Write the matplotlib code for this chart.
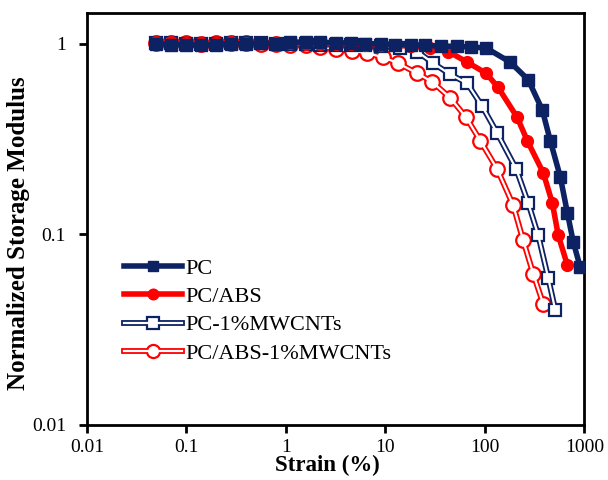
import numpy as np
import matplotlib
matplotlib.use("Agg")
import matplotlib.pyplot as plt
from matplotlib.ticker import FixedLocator, FixedFormatter, NullLocator
from matplotlib.legend_handler import HandlerTuple

# data (strain in %, normalized storage modulus)
pc_strain = [0.05, 0.07, 0.1, 0.14, 0.2, 0.28, 0.4, 0.56, 0.8, 1.1, 1.6, 2.2, 3.2, 4.5,
             6.3, 9, 12.6, 18, 25, 36, 52, 72, 103, 180, 273, 378, 455, 574, 675, 775, 912]
pc_mod = [1.0, 0.99, 0.99, 0.98, 0.99, 1.0, 1.0, 1.01, 1.0, 1.02, 1.02, 1.02, 1.01, 1.01,
          1.0, 1.0, 0.99, 0.99, 0.98, 0.97, 0.97, 0.96, 0.95, 0.80, 0.647, 0.45, 0.31, 0.20,
          0.13, 0.091, 0.067]

pcabs_strain = [0.05, 0.07, 0.1, 0.14, 0.2, 0.28, 0.4, 0.56, 0.8, 1.1, 1.6, 2.2, 3.2, 4.5,
                6.3, 9, 12.6, 18, 28, 43, 66.5, 103, 136, 212, 267, 387, 477, 547, 675]
pcabs_mod = [1.02, 1.02, 1.01, 1.01, 1.01, 1.02, 1.01, 1.01, 1.01, 1.01, 1.0, 1.0, 1.0, 1.0,
             0.99, 0.99, 0.98, 0.97, 0.95, 0.91, 0.80, 0.70, 0.59, 0.41, 0.31, 0.21, 0.146,
             0.099, 0.069]

pccnt_strain = [0.05, 0.07, 0.1, 0.14, 0.2, 0.28, 0.4, 0.56, 0.8, 1.1, 1.6, 2.2, 3.2, 4.5,
                6.3, 9, 14, 20.9, 30.3, 44.9, 66.5, 94, 133, 207, 273, 344, 434, 511]
pccnt_mod = [1.01, 1.01, 1.0, 1.0, 1.0, 1.01, 1.01, 1.01, 1.0, 1.0, 1.0, 0.99, 0.99, 0.99,
             0.98, 0.97, 0.95, 0.91, 0.79, 0.69, 0.62, 0.47, 0.34, 0.22, 0.146, 0.099,
             0.059, 0.040]

pcabscnt_strain = [0.05, 0.07, 0.1, 0.14, 0.2, 0.28, 0.4, 0.56, 0.8, 1.1, 1.6, 2.2, 3.2, 4.6,
                   6.6, 9.5, 13.4, 20.9, 29.6, 44.9, 65, 90, 133, 193, 243, 307, 387]
pcabscnt_mod = [1.01, 1.01, 1.01, 1.0, 1.01, 1.01, 1.01, 1.0, 1.0, 0.99, 0.98, 0.96, 0.94,
                0.92, 0.89, 0.85, 0.79, 0.70, 0.63, 0.52, 0.41, 0.31, 0.22, 0.142, 0.093,
                0.062, 0.043]

labels = ["PC", "PC/ABS", "PC-1%MWCNTs", "PC/ABS-1%MWCNTs"]
ticks = [0.01, 0.1, 1, 10, 100, 1000]
tick_labels = ["0.01", "0.1", "1", "10", "100", "1000"]

navy = "#0d2263"
red = "#ff0000"

plt.rcParams["font.family"] = ["Liberation Serif", "DejaVu Serif"]

fig = plt.figure(figsize=(6.08, 4.8), dpi=100)
ax = fig.add_axes([0.143, 0.115, 0.818, 0.858])

h1, = ax.plot(pc_strain, pc_mod, color=navy, lw=4, marker="s", ms=8, zorder=4)
h2, = ax.plot(pcabs_strain, pcabs_mod, color=red, lw=4, marker="o", ms=8.5, zorder=3)

# open-marker series: coloured outline line with a white core
h3a, = ax.plot(pccnt_strain, pccnt_mod, color=navy, lw=4.2, marker="s", ms=9,
               mfc="white", mec=navy, mew=1.6, zorder=2)
h3b, = ax.plot(pccnt_strain, pccnt_mod, color="white", lw=1.6, zorder=2)

h4a, = ax.plot(pcabscnt_strain, pcabscnt_mod, color=red, lw=4.2, marker="o", ms=10.5,
               mfc="white", mec=red, mew=1.6, zorder=1)
h4b, = ax.plot(pcabscnt_strain, pcabscnt_mod, color="white", lw=1.6, zorder=1)

ax.set_xscale("log")
ax.set_yscale("log")
ax.set_xlim(0.01, 1000)
ax.set_ylim(0.01, 1.45)

ax.xaxis.set_major_locator(FixedLocator(ticks))
ax.xaxis.set_major_formatter(FixedFormatter(tick_labels))
ax.xaxis.set_minor_locator(NullLocator())
ax.yaxis.set_major_locator(FixedLocator(ticks[:3]))
ax.yaxis.set_major_formatter(FixedFormatter(tick_labels[:3]))
ax.yaxis.set_minor_locator(NullLocator())

ax.tick_params(axis="both", which="major", direction="out", length=6, width=2,
               labelsize=14)
ax.tick_params(axis="y", pad=9)
ax.tick_params(axis="x", pad=4)
for sp in ax.spines.values():
    sp.set_linewidth(2)

ax.set_xlabel("Strain (%)", fontsize=16.5, fontweight="bold")
ax.xaxis.set_label_coords(0.483, -0.074)
ax.set_ylabel("Normalized Storage Modulus", fontsize=18, fontweight="bold")
ax.yaxis.set_label_coords(-0.115, 0.466)

ax.legend([h1, h2, (h3a, h3b), (h4a, h4b)], labels,
          handler_map={tuple: HandlerTuple(ndivide=1)},
          loc="lower left", bbox_to_anchor=(0.035, 0.1), frameon=False,
          fontsize=16, handlelength=2.6, handletextpad=0.15, labelspacing=0.35,
          markerscale=0.9)

fig.savefig("out.png", dpi=100)
